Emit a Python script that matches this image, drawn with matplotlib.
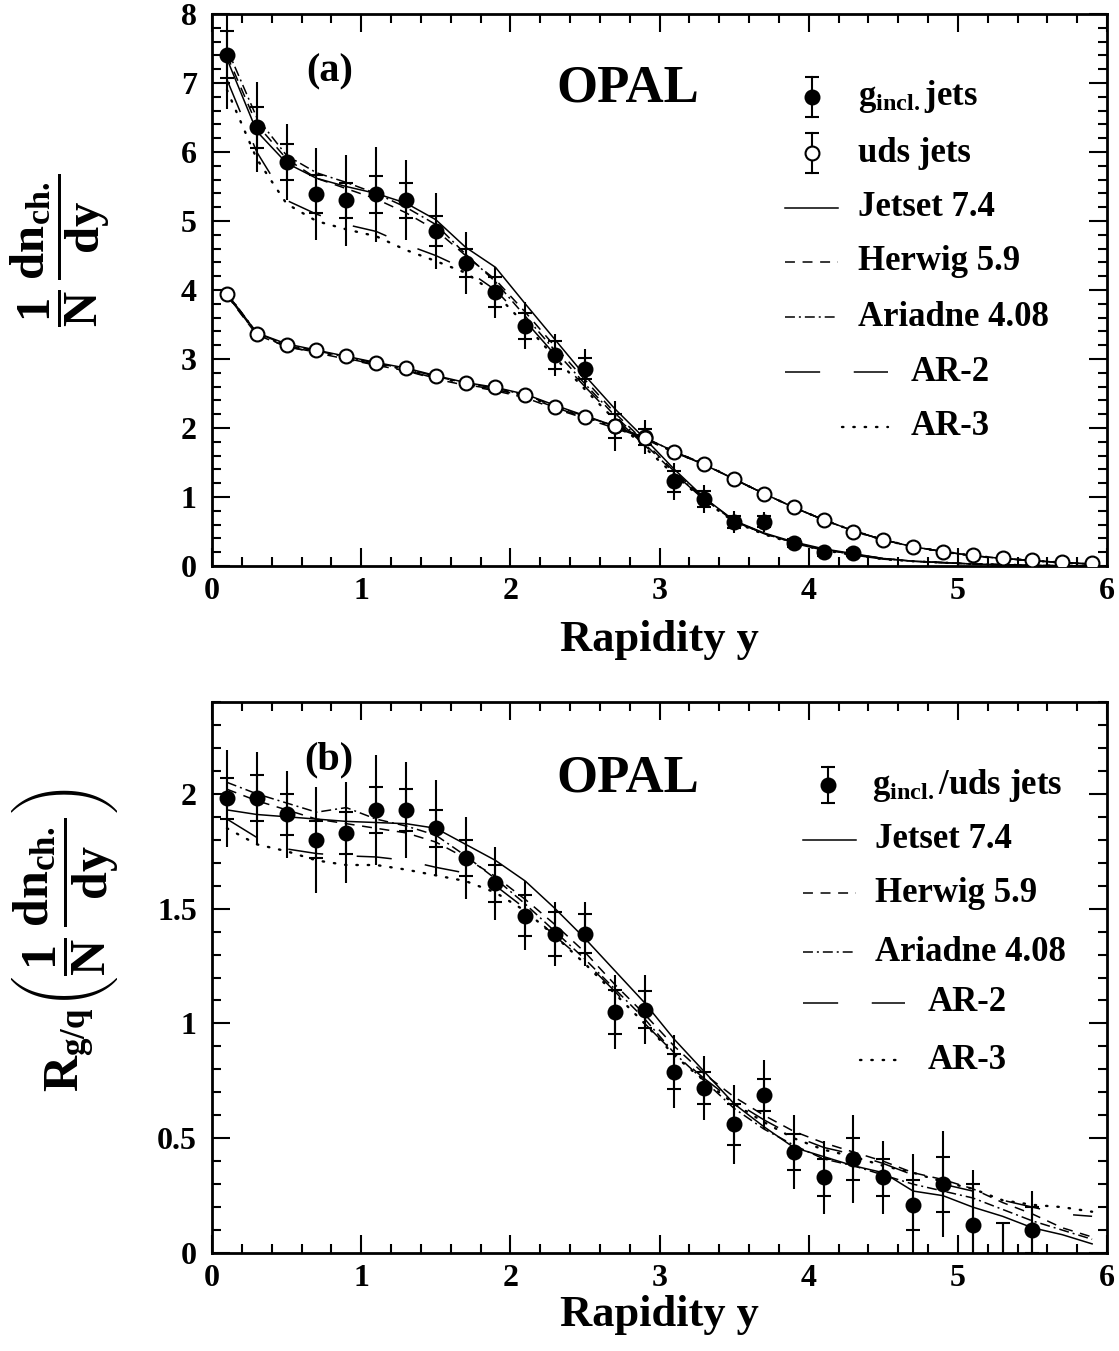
import numpy as np
import matplotlib
matplotlib.use('Agg')
import matplotlib.pyplot as plt
from matplotlib.ticker import MultipleLocator

STYLE = {
    'font.family': 'Liberation Serif',
    'font.weight': 'bold',
    'axes.labelweight': 'bold',
    'font.size': 22,
    'mathtext.fontset': 'custom',
    'mathtext.rm': 'Liberation Serif:bold',
    'mathtext.it': 'Liberation Serif:bold',
    'mathtext.bf': 'Liberation Serif:bold',
    'axes.linewidth': 2.0,
    'lines.dash_capstyle': 'butt',
}
plt.rcParams.update(STYLE)

# ---------------- data ----------------
# bin centres in rapidity
y_bins = [0.1, 0.3, 0.5, 0.7, 0.9, 1.1, 1.3, 1.5, 1.7, 1.9, 2.1, 2.3, 2.5, 2.7, 2.9,
          3.1, 3.3, 3.5, 3.7, 3.9, 4.1, 4.3, 4.5, 4.7, 4.9, 5.1, 5.3, 5.5, 5.7, 5.9]

# (a) gluon jets, data up to y = 4.3
g_data = [7.41, 6.36, 5.86, 5.39, 5.30, 5.39, 5.30, 4.86, 4.39, 3.97, 3.48, 3.06, 2.86,
          2.03, 1.87, 1.23, 0.97, 0.64, 0.64, 0.33, 0.20, 0.19]
g_stat = [0.34, 0.30, 0.26, 0.28, 0.25, 0.27, 0.25, 0.22, 0.20, 0.22, 0.19, 0.20, 0.15,
          0.18, 0.11, 0.15, 0.12, 0.09, 0.08, 0.06, 0.05, 0.04]
g_tot = [0.78, 0.65, 0.55, 0.67, 0.66, 0.69, 0.58, 0.55, 0.45, 0.37, 0.34, 0.30, 0.28,
         0.36, 0.25, 0.27, 0.20, 0.16, 0.14, 0.10, 0.07, 0.06]

# (a) uds jets
q_data = [3.94, 3.37, 3.21, 3.13, 3.04, 2.94, 2.87, 2.75, 2.65, 2.59, 2.48, 2.31, 2.16,
          2.03, 1.86, 1.65, 1.48, 1.26, 1.04, 0.85, 0.67, 0.50, 0.38, 0.28, 0.21, 0.16,
          0.12, 0.09, 0.06, 0.04]

# (a) model predictions, gluon jets
g_jetset = [7.35, 6.30, 5.84, 5.62, 5.50, 5.40, 5.26, 5.02, 4.62, 4.33, 3.80, 3.28, 2.76,
            2.28, 1.85, 1.40, 0.99, 0.66, 0.48, 0.35, 0.25, 0.18, 0.11, 0.07, 0.05, 0.03,
            0.02, 0.01, 0.005, 0.0]
g_herwig = [7.40, 6.40, 5.90, 5.62, 5.47, 5.32, 5.12, 4.87, 4.50, 4.15, 3.68, 3.18, 2.70,
            2.22, 1.80, 1.37, 0.98, 0.66, 0.47, 0.34, 0.24, 0.17, 0.11, 0.07, 0.05, 0.03,
            0.02, 0.01, 0.005, 0.0]
g_ariadne = [7.50, 6.50, 5.95, 5.70, 5.56, 5.40, 5.20, 4.95, 4.52, 4.12, 3.62, 3.12, 2.64,
             2.18, 1.77, 1.35, 0.97, 0.65, 0.47, 0.34, 0.24, 0.17, 0.11, 0.07, 0.05, 0.03,
             0.02, 0.01, 0.005, 0.0]
g_ar2 = [7.05, 6.00, 5.30, 5.10, 4.95, 4.85, 4.66, 4.50, 4.30, 4.00, 3.55, 3.06, 2.60,
         2.15, 1.75, 1.34, 0.96, 0.65, 0.47, 0.33, 0.23, 0.16, 0.10, 0.07, 0.05, 0.03,
         0.02, 0.01, 0.005, 0.0]
g_ar3 = [6.90, 5.90, 5.25, 5.00, 4.88, 4.78, 4.58, 4.42, 4.25, 3.95, 3.50, 3.02, 2.56,
         2.12, 1.72, 1.32, 0.95, 0.64, 0.46, 0.33, 0.23, 0.16, 0.10, 0.07, 0.05, 0.03,
         0.02, 0.01, 0.005, 0.0]

# (a) model predictions, uds jets
q_jetset = [3.95, 3.38, 3.22, 3.13, 3.04, 2.95, 2.87, 2.76, 2.66, 2.59, 2.49, 2.33, 2.18,
            2.03, 1.86, 1.66, 1.47, 1.26, 1.05, 0.85, 0.67, 0.51, 0.38, 0.28, 0.21, 0.15,
            0.11, 0.08, 0.05, 0.03]
q_herwig = [3.92, 3.35, 3.18, 3.09, 3.00, 2.91, 2.83, 2.71, 2.62, 2.54, 2.44, 2.28, 2.14,
            2.00, 1.84, 1.65, 1.47, 1.26, 1.05, 0.85, 0.67, 0.51, 0.38, 0.28, 0.21, 0.15,
            0.11, 0.08, 0.05, 0.03]
q_ariadne = [3.96, 3.38, 3.20, 3.12, 3.03, 2.94, 2.86, 2.75, 2.65, 2.58, 2.48, 2.32, 2.17,
             2.03, 1.86, 1.66, 1.48, 1.26, 1.05, 0.85, 0.67, 0.51, 0.38, 0.28, 0.21, 0.15,
             0.11, 0.08, 0.05, 0.03]
q_ar2 = [3.93, 3.36, 3.18, 3.10, 3.01, 2.92, 2.84, 2.72, 2.63, 2.56, 2.46, 2.30, 2.15,
         2.01, 1.85, 1.65, 1.47, 1.26, 1.05, 0.85, 0.67, 0.51, 0.38, 0.28, 0.21, 0.15,
         0.11, 0.08, 0.05, 0.03]
q_ar3 = [3.94, 3.37, 3.19, 3.11, 3.02, 2.93, 2.85, 2.74, 2.64, 2.57, 2.47, 2.31, 2.16,
         2.02, 1.85, 1.65, 1.48, 1.26, 1.05, 0.85, 0.67, 0.51, 0.38, 0.28, 0.21, 0.15,
         0.11, 0.08, 0.05, 0.03]

# (b) ratio gluon / uds, data up to y = 5.5
r_data = [1.98, 1.98, 1.91, 1.80, 1.83, 1.93, 1.93, 1.85, 1.72, 1.61, 1.47, 1.39, 1.39,
          1.05, 1.06, 0.79, 0.72, 0.56, 0.69, 0.44, 0.33, 0.41, 0.33, 0.21, 0.30, 0.12,
          -0.06, 0.10]
r_stat = [0.09, 0.10, 0.09, 0.08, 0.09, 0.10, 0.09, 0.08, 0.08, 0.08, 0.09, 0.095, 0.085,
          0.095, 0.08, 0.075, 0.07, 0.09, 0.07, 0.08, 0.08, 0.09, 0.08, 0.11, 0.12, 0.18,
          0.19, 0.10]
r_tot = [0.21, 0.20, 0.19, 0.23, 0.22, 0.24, 0.21, 0.21, 0.18, 0.16, 0.15, 0.14, 0.14,
         0.16, 0.15, 0.16, 0.14, 0.17, 0.15, 0.16, 0.16, 0.19, 0.16, 0.22, 0.23, 0.24,
         0.19, 0.17]

r_jetset = [1.93, 1.91, 1.90, 1.89, 1.88, 1.875, 1.87, 1.85, 1.78, 1.71, 1.62, 1.50, 1.37,
            1.23, 1.09, 0.93, 0.79, 0.65, 0.55, 0.46, 0.42, 0.38, 0.35, 0.27, 0.25, 0.20,
            0.16, 0.11, 0.08, 0.04]
r_herwig = [2.02, 1.97, 1.93, 1.89, 1.87, 1.85, 1.83, 1.79, 1.72, 1.64, 1.54, 1.43, 1.31,
            1.17, 1.04, 0.90, 0.78, 0.68, 0.60, 0.53, 0.48, 0.44, 0.40, 0.35, 0.32, 0.28,
            0.22, 0.17, 0.11, 0.07]
r_ariadne = [2.05, 2.00, 1.96, 1.92, 1.94, 1.89, 1.86, 1.82, 1.73, 1.63, 1.52, 1.40, 1.28,
             1.15, 1.02, 0.87, 0.75, 0.63, 0.54, 0.47, 0.41, 0.38, 0.34, 0.30, 0.27, 0.24,
             0.19, 0.14, 0.10, 0.06]
r_ar2 = [1.89, 1.81, 1.76, 1.74, 1.73, 1.725, 1.71, 1.68, 1.655, 1.60, 1.50, 1.38, 1.27,
         1.14, 1.00, 0.87, 0.76, 0.66, 0.58, 0.51, 0.46, 0.43, 0.39, 0.34, 0.30, 0.27,
         0.23, 0.20, 0.17, 0.16]
r_ar3 = [1.85, 1.78, 1.75, 1.71, 1.69, 1.69, 1.67, 1.645, 1.62, 1.57, 1.49, 1.38, 1.26,
         1.13, 1.00, 0.86, 0.75, 0.65, 0.57, 0.50, 0.45, 0.42, 0.38, 0.35, 0.31, 0.28,
         0.23, 0.21, 0.20, 0.18]

MODEL_NAMES = ['Jetset 7.4', 'Herwig 5.9', 'Ariadne 4.08', 'AR-2', 'AR-3']
LINESTYLES = {
    'Jetset 7.4': dict(ls='-', lw=1.1),
    'Herwig 5.9': dict(ls=(0, (6.5, 5.0)), lw=1.1),
    'Ariadne 4.08': dict(ls=(0, (6.5, 2.6, 1.3, 2.6)), lw=1.1),
    'AR-2': dict(ls=(0, (23.0, 22.0)), lw=1.1),
    'AR-3': dict(ls=(0, (0.6, 4.2)), lw=1.7, dash_capstyle='round'),
}


def style_axes(ax, ylim, ymajor, yminor, yfmt):
    ax.set_xlim(0, 6)
    ax.set_ylim(*ylim)
    ax.xaxis.set_major_locator(MultipleLocator(1))
    ax.xaxis.set_minor_locator(MultipleLocator(0.2))
    ax.yaxis.set_major_locator(MultipleLocator(ymajor))
    ax.yaxis.set_minor_locator(MultipleLocator(yminor))
    ax.yaxis.set_major_formatter(yfmt)
    ax.tick_params(which='both', direction='in', top=True, right=True,
                   width=1.5, labelsize=23)
    ax.tick_params(which='major', length=13)
    ax.tick_params(which='minor', length=6.5)
    ax.tick_params(axis='x', pad=8)
    ax.tick_params(axis='y', pad=11)


def draw_models(ax, curves):
    for name, vals in zip(MODEL_NAMES, curves):
        st = LINESTYLES[name]
        ax.plot(y_bins, vals, color='k', linestyle=st['ls'], linewidth=st['lw'],
                dash_capstyle=st.get('dash_capstyle', 'butt'), zorder=2)


def draw_points(ax, x, y, stat, tot, filled=True):
    ax.errorbar(x, y, yerr=tot, fmt='none', ecolor='k', elinewidth=1.5, capsize=0, zorder=3)
    ax.errorbar(x, y, yerr=stat, fmt='none', ecolor='k', elinewidth=1.5, capsize=5,
                capthick=1.5, zorder=3)
    ax.plot(x, y, 'o', color='k', ms=10, mfc='k' if filled else 'white',
            mew=1.5, zorder=4)


def legend_point(ax, x, y, dy, text, tx, filled=True):
    t = ax.transAxes
    ax.plot([x, x], [y - dy, y + dy], color='k', lw=1.5, transform=t, clip_on=False)
    ax.plot([x, x], [y - dy, y + dy], '_', color='k', ms=10, mew=1.5, transform=t,
            clip_on=False)
    ax.plot([x], [y], 'o', color='k', ms=10, mfc='k' if filled else 'white', mew=1.5,
            transform=t, clip_on=False)
    ax.text(tx, y, text, transform=t, fontsize=25, va='center', ha='left')


def legend_line(ax, x0, x1, y, name, tx):
    st = LINESTYLES[name]
    ax.plot([x0, x1], [y, y], color='k', linestyle=st['ls'], linewidth=st['lw'],
            dash_capstyle=st.get('dash_capstyle', 'butt'), transform=ax.transAxes)
    ax.text(tx, y, name, transform=ax.transAxes, fontsize=25, va='center', ha='left')


fig = plt.figure(figsize=(11.19, 13.51), dpi=100, facecolor='white')

# ---------------- panel (a) ----------------
ax1 = fig.add_axes([0.1895, 0.5810, 0.7998, 0.4086])
style_axes(ax1, (0, 8), 1, 0.2, '{x:.0f}')
draw_models(ax1, [g_jetset, g_herwig, g_ariadne, g_ar2, g_ar3])
draw_models(ax1, [q_jetset, q_herwig, q_ariadne, q_ar2, q_ar3])
draw_points(ax1, y_bins[:len(g_data)], g_data, g_stat, g_tot, filled=True)
ax1.plot(y_bins, q_data, 'o', color='k', ms=10, mfc='white', mew=1.5, zorder=4)

ax1.text(0.131, 0.895, '(a)', transform=ax1.transAxes, fontsize=29, ha='center', va='center')
ax1.text(0.465, 0.866, 'OPAL', transform=ax1.transAxes, fontsize=38, ha='center', va='center')

legend_point(ax1, 0.670, 0.850, 0.036, r'g$_{\mathrm{incl.}}$jets', 0.722, filled=True)
legend_point(ax1, 0.670, 0.748, 0.036, 'uds jets', 0.722, filled=False)
legend_line(ax1, 0.640, 0.699, 0.649, 'Jetset 7.4', 0.722)
legend_line(ax1, 0.640, 0.699, 0.551, 'Herwig 5.9', 0.722)
legend_line(ax1, 0.640, 0.699, 0.451, 'Ariadne 4.08', 0.722)
legend_line(ax1, 0.640, 0.755, 0.351, 'AR-2', 0.780)
legend_line(ax1, 0.704, 0.755, 0.252, 'AR-3', 0.780)

ax1.set_xlabel('Rapidity y', fontsize=32)
ax1.xaxis.label.set_va('center')
ax1.xaxis.set_label_coords(0.5, -0.134)
ax1.set_ylabel(r'$\dfrac{1}{N}\,\dfrac{dn_{ch.}}{dy}$', fontsize=35)
ax1.yaxis.label.set_va('center')
ax1.yaxis.set_label_coords(-0.170, 0.572)

# ---------------- panel (b) ----------------
ax2 = fig.add_axes([0.1895, 0.0725, 0.7998, 0.4079])
style_axes(ax2, (0, 2.4), 0.5, 0.1, lambda v, p: f'{v:g}')
draw_models(ax2, [r_jetset, r_herwig, r_ariadne, r_ar2, r_ar3])
draw_points(ax2, y_bins[:len(r_data)], r_data, r_stat, r_tot, filled=True)

ax2.text(0.131, 0.895, '(b)', transform=ax2.transAxes, fontsize=29, ha='center', va='center')
ax2.text(0.465, 0.862, 'OPAL', transform=ax2.transAxes, fontsize=38, ha='center', va='center')

legend_point(ax2, 0.688, 0.849, 0.033, r'g$_{\mathrm{incl.}}$/uds jets', 0.737, filled=True)
legend_line(ax2, 0.660, 0.720, 0.750, 'Jetset 7.4', 0.741)
legend_line(ax2, 0.660, 0.720, 0.653, 'Herwig 5.9', 0.741)
legend_line(ax2, 0.660, 0.720, 0.546, 'Ariadne 4.08', 0.741)
legend_line(ax2, 0.660, 0.774, 0.454, 'AR-2', 0.799)
legend_line(ax2, 0.724, 0.774, 0.350, 'AR-3', 0.799)

ax2.set_xlabel('Rapidity y', fontsize=32)
ax2.xaxis.label.set_va('center')
ax2.xaxis.set_label_coords(0.5, -0.1125)
ax2.set_ylabel(r'$R_{g/q}\left(\dfrac{1}{N}\,\dfrac{dn_{ch.}}{dy}\right)$', fontsize=36)
ax2.yaxis.label.set_va('center')
ax2.yaxis.set_label_coords(-0.164, 0.568)

fig.savefig('out.png', dpi=100, facecolor='white')
plt.close(fig)
